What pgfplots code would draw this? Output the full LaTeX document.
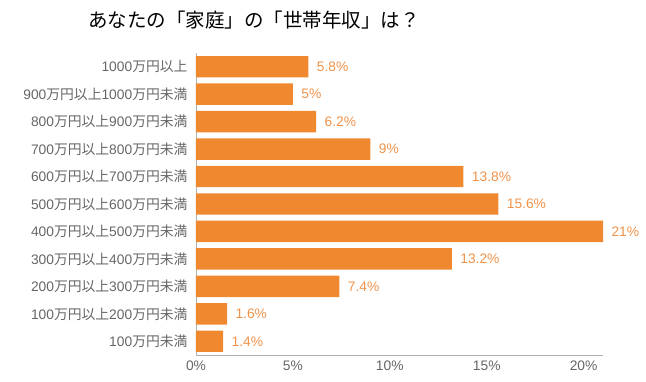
\documentclass[border=0pt]{standalone}
\usepackage{pgfplots}
\pgfplotsset{compat=1.18}
\usepackage{fontspec}
\setmainfont{Liberation Sans}
\newfontfamily\cjk{Noto Sans CJK JP}
\newcommand\J[1]{{\cjk #1}}
\definecolor{barc}{HTML}{F0882F}
\definecolor{valc}{HTML}{F0924A}
\definecolor{tickc}{HTML}{666666}
\definecolor{axc}{HTML}{B0B0B0}
\begin{document}
\begin{tikzpicture}[x=1pt,y=1pt]
\path[use as bounding box] (0,0) rectangle (646,382);
\node[anchor=center,font=\fontsize{19.5}{22}\selectfont] at (254,362) {\J{あなたの「家庭」の「世帯年収」は？}};
\begin{axis}[
  at={(196pt,27pt)}, anchor=south west,
  scale only axis, width=407pt, height=302pt,
  xbar, bar width=0.78,
  xmin=0, xmax=21, ymin=-0.5, ymax=10.5,
  axis x line*=bottom, axis y line*=left,
  axis line style={draw=axc, line width=0.8pt},
  x axis line style={-}, y axis line style={-},
  major tick length=0pt,
  xtick={0,5,10,15,20},
  xticklabel={\pgfmathprintnumber{\tick}\%},
  ytick={0,...,10},
  yticklabels={
    100\J{万円未満},
    100\J{万円以上}200\J{万円未満},
    200\J{万円以上}300\J{万円未満},
    300\J{万円以上}400\J{万円未満},
    400\J{万円以上}500\J{万円未満},
    500\J{万円以上}600\J{万円未満},
    600\J{万円以上}700\J{万円未満},
    700\J{万円以上}800\J{万円未満},
    800\J{万円以上}900\J{万円未満},
    900\J{万円以上}1000\J{万円未満},
    1000\J{万円以上}},
  tick label style={font=\fontsize{13.8}{16}\selectfont, text=tickc},
  yticklabel style={xshift=-5pt},
  xticklabel style={yshift=-2pt},
  /pgf/number format/assume math mode=true,
  nodes near coords={\pgfmathprintnumber{\pgfplotspointmeta}\%},
  nodes near coords style={font=\fontsize{13.8}{16}\selectfont, text=valc, anchor=west, xshift=5pt},
  clip=false,
]
\addplot[fill=barc, draw=none] coordinates {
  (1.4,0) (1.6,1) (7.4,2) (13.2,3) (21,4) (15.6,5) (13.8,6) (9,7) (6.2,8) (5,9) (5.8,10)
};
\end{axis}
\end{tikzpicture}
\end{document}
